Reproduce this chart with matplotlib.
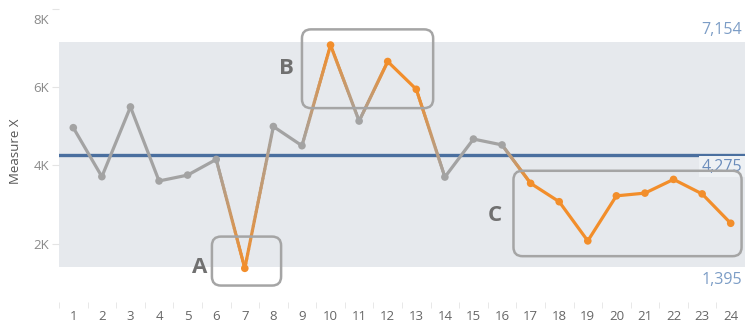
import numpy as np
import matplotlib
matplotlib.use("Agg")
import matplotlib.pyplot as plt
from matplotlib.collections import LineCollection
from matplotlib.patches import FancyBboxPatch
from matplotlib.transforms import IdentityTransform, ScaledTranslation
from matplotlib.colors import to_rgb

plt.rcParams['font.family'] = ['Open Sans', 'DejaVu Sans']

# Measure values per period
periods = list(range(1, 25))
values = [4960, 3710, 5490, 3600, 3750, 4150, 1370, 4990, 4500, 7070, 5130, 6650,
          5940, 3700, 4670, 4520, 3540, 3070, 2070, 3220, 3290, 3640, 3270, 2520]
flagged = [7, 10, 12, 13, 17, 18, 19, 20, 21, 22, 23, 24]

mean_val = 4275
upper_val = 7154
lower_val = 1395

# callout boxes: label, (x0, x1), (y0, y1), label position
callouts = [
    ("A", (5.85, 8.27), (930, 2180), (5.43, 1380)),
    ("B", (9.0, 13.59), (5460, 7470), (8.46, 6480)),
    ("C", (16.40, 24.38), (1680, 3860), (15.74, 2710)),
]

GRAY = '#a3a3a3'
ORANGE = '#f28e2b'
BLUE = '#4a6f9f'
REF_TXT = '#7c9dc6'

fig = plt.figure(figsize=(7.45, 3.24), dpi=100)
ax = fig.add_axes([59 / 745, 22 / 324, 686 / 745, 302 / 324])
ax.set_xlim(0.5, 24.41)
ax.set_ylim(510, 8220)

# reference band and mean line
ax.axhspan(lower_val, upper_val, color='#e6e9ed', zorder=0, lw=0)
ax.axhline(mean_val, color=BLUE, lw=2.4, zorder=1)

# line segments, blended where colour changes between points
cols = [ORANGE if p in flagged else GRAY for p in periods]
segs, seg_cols = [], []
for i in range(len(periods) - 1):
    x0, x1 = periods[i], periods[i + 1]
    y0, y1 = values[i], values[i + 1]
    c0, c1 = np.array(to_rgb(cols[i])), np.array(to_rgb(cols[i + 1]))
    n = 1 if cols[i] == cols[i + 1] else 30
    for k in range(n):
        t0, t1 = k / n, (k + 1) / n
        segs.append([(x0 + (x1 - x0) * t0, y0 + (y1 - y0) * t0),
                     (x0 + (x1 - x0) * t1, y0 + (y1 - y0) * t1)])
        seg_cols.append(c0 + (c1 - c0) * (t0 + t1) / 2)
lc = LineCollection(segs, colors=seg_cols, linewidths=2.3, capstyle='round', zorder=3)
ax.add_collection(lc)
ax.scatter(periods, values, c=cols, s=30, zorder=4, lw=0)

# reference line labels
ax.annotate(f"{upper_val:,}", (1, upper_val), xycoords=('axes fraction', 'data'),
            xytext=(-2, 3), textcoords='offset points', ha='right', va='bottom',
            color=REF_TXT, fontsize=11.5)
ax.annotate(f"{mean_val:,}", (1, mean_val), xycoords=('axes fraction', 'data'),
            xytext=(-2, -3), textcoords='offset points', ha='right', va='top',
            color='#6a8cbb', fontsize=11.5,
            bbox=dict(boxstyle='square,pad=0.15', fc='#eef1f4', ec='none'))
ax.annotate(f"{lower_val:,}", (1, lower_val), xycoords=('axes fraction', 'data'),
            xytext=(-2, -3), textcoords='offset points', ha='right', va='top',
            color=REF_TXT, fontsize=11.5)

# axes styling
for s in ax.spines.values():
    s.set_visible(False)
ax.set_yticks([2000, 4000, 6000, 8000])
ax.set_yticklabels(['2K', '4K', '6K', '8K'])
ax.tick_params(axis='y', length=5, color='#e4e4e4', labelcolor='#8a8a8a',
               labelsize=9.5, pad=2)
# keep the top label inside the pane
top_lbl = ax.get_yticklabels()[-1]
top_lbl.set_verticalalignment('top')
top_lbl.set_transform(top_lbl.get_transform() + ScaledTranslation(0, -4 / 72, fig.dpi_scale_trans))
ax.set_ylabel('Measure X', color='#555555', fontsize=9.5, labelpad=8)

ax.set_xticks(periods)
ax.set_xticklabels([str(p) for p in periods])
ax.tick_params(axis='x', length=0, labelcolor='#666666', labelsize=9.5, pad=6)
ax.set_xticks(np.arange(0.5, 25, 1), minor=True)
ax.tick_params(axis='x', which='minor', length=4, color='#e4e4e4', direction='out', pad=0)

# rounded callout boxes drawn in pixel space
for label, (bx0, bx1), (by0, by1), (lx, ly) in callouts:
    p0 = ax.transData.transform((bx0, by0))
    p1 = ax.transData.transform((bx1, by1))
    box = FancyBboxPatch((p0[0], p0[1]), p1[0] - p0[0], p1[1] - p0[1],
                         boxstyle='round,pad=0,rounding_size=9',
                         transform=IdentityTransform(), fill=False,
                         ec='#a5a5a5', lw=1.8, zorder=5, clip_on=False)
    fig.add_artist(box)
    ax.text(lx, ly, label, ha='center', va='center', fontsize=16,
            fontweight='bold', color='#707070', zorder=6)

fig.savefig('out.png', dpi=100)
